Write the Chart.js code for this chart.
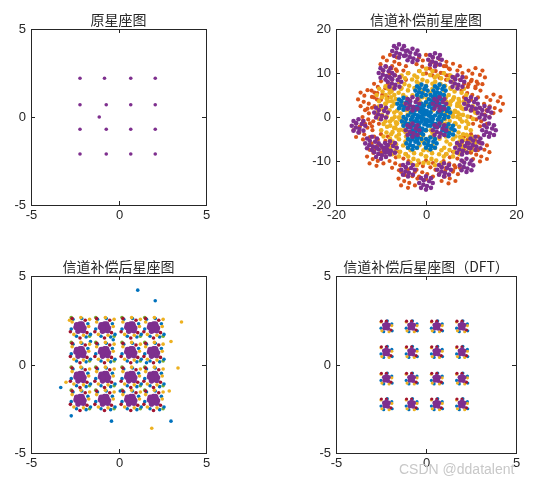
<!DOCTYPE html>
<html><head><meta charset="utf-8">
<script src="https://cdn.jsdelivr.net/npm/chart.js@4/dist/chart.umd.min.js"></script>
<style>
html,body{margin:0;padding:0;background:#fff;width:547px;height:488px;overflow:hidden}
canvas{position:absolute;left:0;top:0;pointer-events:none}
#wm{position:absolute;left:399px;top:461px;font:14px "Liberation Sans",Arial,sans-serif;color:#c8c8c8}
</style></head><body>
<canvas id="c1" width="547" height="488"></canvas>
<canvas id="c2" width="547" height="488"></canvas>
<canvas id="c3" width="547" height="488"></canvas>
<canvas id="c4" width="547" height="488"></canvas>
<div id="wm">CSDN @ddatalent</div>
<script>
// ---- data ----
const titles = ['原星座图','信道补偿前星座图','信道补偿后星座图','信道补偿后星座图（DFT）'];
const ticks5 = [-5,0,5];
const ticks20 = [-20,0,20];
const ticks20y = [-20,-10,0,10,20];
// original constellation
const origPts = [[-2.2,2.2],[-0.8,2.2],[0.7,2.2],[2.1,2.2],[-2.2,0.7],[-0.7,0.7],[0.7,0.7],[2.1,0.7],[-1.1,0],
  [-2.2,-0.7],[-0.7,-0.7],[0.7,-0.7],[2.1,-0.7],[-2.2,-2.1],[-0.7,-2.1],[0.7,-2.1],[2.1,-2.1]];
// before compensation: loop centres per colour and a loop shape
const loopShape = [[1.5,0],[1.1,1.1],[0,1.5],[-1.1,1.1],[-1.5,0],[-1.1,-1.1],[0,-1.5],[1.1,-1.1],[0.7,0.4],[-0.5,0.6],[0.2,-0.7],[-0.6,-0.4]];
const preYellow = [[-7,5],[-4,8],[0,9],[4,8],[7,5],[9,1],[8,-3],[6,-7],[2,-9],[-2,-9],[-6,-7],[-8,-3],[-9,1],[-3,3],[3,3],[3,-3],[-3,-3],[0,5],[0,-5],[5,0],[-5,0],[-6,-2],[6,2],[9,-6],[-9,5]];
const preOrange = [[-10,6],[-6,10],[0,12],[6,10],[10,6],[12,0],[10,-6],[6,-10],[0,-12],[-6,-10],[-10,-6],[-12,0],[-14,-3],[15,3],[-4,-14],[5,-13],[-8,12],[3,11],[-11,-9],[12,-8],[-13,4],[11,9]];
const preBlue = [[0,0],[-2,1],[2,-1],[-4,-1],[4,1],[-2,-4],[2,4],[-1,6],[1,-6],[-5,3],[5,-3],[-3,-6],[3,6],[0,2],[-1,-2]];
const prePurple = [[-15,-2],[13,1],[0,-15],[-3,14],[-7,8],[7,8],[-8,-7],[8,-7],[-3,3],[3,3],[-3,-3],[3,-3],[-10,1],[10,3],[4,-12],[-4,-12],[-10,-8],[11,-6],[-9,10],[2,13],[-12,-6],[9,-11],[-6,15],[14,-3]];
// after compensation: cluster centres
const qamX = [-2.2,-0.8,0.7,2.0];
const qamY = [2.1,0.7,-0.7,-2.0];
const purpleSpread = [[0,0],[0.2,0.1],[-0.2,0.1],[0.1,-0.2],[-0.1,-0.2],[0.3,-0.05],[-0.3,0],[0,0.25],[0.15,0.25],[-0.15,-0.3],[0.25,-0.25],[-0.25,0.2],[0.1,0.05],[-0.1,-0.05]];
const blueSpread = [[0.45,0.2],[-0.5,-0.1],[0.1,0.5],[-0.2,-0.5],[0.6,-0.4],[-0.4,0.45],[0.35,-0.55]];
const yellowSpread = [[-0.45,0.3],[0.5,0.05],[0.2,-0.45],[-0.35,-0.4],[0.05,0.55],[0.55,0.45]];
const redSpread = [[0.4,-0.3],[-0.45,0.5],[-0.55,-0.25],[0.3,0.4],[0.0,-0.6]];
const greenSpread = [[-0.5,0.55],[0.55,-0.5]];
const afterOutliers = [[-2.8,2.5],[3.6,2.4],[3.0,1.3],[3.4,-0.2],[-3.0,-1.0],[2.9,-1.5],[1.9,-3.6],[3.0,-3.2],[-2.7,-2.9],[1.1,4.2],[-0.4,-3.2],[2.1,3.6],[-3.3,-1.3]];
const afterOutliers2 = [[-1.6,1.3],[0.1,-1.5],[-0.3,1.4],[1.6,0.1]];
const brPurpleSpread = [[0,0],[0.12,0.08],[-0.12,0.08],[0.08,-0.12],[-0.1,-0.1],[0,0.15]];
const brBlueSpread = [[0.3,0.15],[-0.3,-0.1],[0.05,0.32],[-0.15,-0.3],[0.32,-0.25]];
const brYellowSpread = [[-0.3,0.25],[0.3,0.05],[0.15,-0.3],[-0.25,-0.25]];
const brRedSpread = [[0.25,-0.2],[-0.28,0.3],[0.0,0.3]];
const brCentX = [-2.2,-0.8,0.6,2.0];
const brCentY = [2.15,0.7,-0.8,-2.25];

const C = {blue:'#0072BD',orange:'#D95319',yellow:'#EDB120',purple:'#7E2F8E',green:'#77AC30',red:'#A2142F',cyan:'#4DBEEE'};

function around(centres, shape, scale){const o=[];for(const c of centres)for(const s of shape)o.push({x:c[0]+s[0]*(scale||1),y:c[1]+s[1]*(scale||1)});return o;}
function grid(xs,ys){const o=[];for(const y of ys)for(const x of xs)o.push([x,y]);return o;}
function pts(a){return a.map(p=>({x:p[0],y:p[1]}));}

const boxPlugin={id:'box',afterDraw(ch,args,opt){
  const {ctx,chartArea:a}=ch;const sx=ch.scales.x,sy=ch.scales.y;
  ctx.save();ctx.strokeStyle='#262626';ctx.lineWidth=1;
  ctx.strokeRect(Math.round(a.left)+0.5,Math.round(a.top)+0.5,Math.round(a.right-a.left),Math.round(a.bottom-a.top));
  ctx.fillStyle='#262626';ctx.font='13px "Liberation Sans", Arial, sans-serif';
  ctx.textAlign='center';ctx.textBaseline='top';
  for(const v of opt.xt){const px=Math.round(sx.getPixelForValue(v))+0.5;
    ctx.beginPath();ctx.moveTo(px,a.bottom);ctx.lineTo(px,a.bottom-4);ctx.moveTo(px,a.top);ctx.lineTo(px,a.top+4);ctx.stroke();
    ctx.fillText(String(v),px,a.bottom+4);}
  ctx.textAlign='right';ctx.textBaseline='middle';
  for(const v of opt.yt){const py=Math.round(sy.getPixelForValue(v))+0.5;
    ctx.beginPath();ctx.moveTo(a.left,py);ctx.lineTo(a.left+4,py);ctx.moveTo(a.right,py);ctx.lineTo(a.right-4,py);ctx.stroke();
    ctx.fillText(String(v),a.left-5,py);}
  ctx.textAlign='center';ctx.textBaseline='bottom';ctx.font='14px "Noto Sans CJK SC", sans-serif';
  ctx.fillText(opt.title,(a.left+a.right)/2,a.top-2);
  ctx.restore();}};

function make(id,pad,rng,xt,yt,title,datasets){
  new Chart(document.getElementById(id),{type:'scatter',
    data:{datasets:datasets.map((d,i)=>({data:d.data,backgroundColor:d.c,borderWidth:0,pointRadius:d.r,order:i}))},
    options:{responsive:false,animation:false,events:[],
      layout:{padding:pad},
      plugins:{legend:{display:false},tooltip:{enabled:false},box:{xt,yt,title}},
      scales:{x:{type:'linear',min:rng[0],max:rng[1],display:false},y:{type:'linear',min:rng[0],max:rng[1],display:false}}},
    plugins:[boxPlugin]});
}
make('c1',{left:31,top:29,right:341,bottom:283},[-5,5],ticks5,ticks5,titles[0],[{data:pts(origPts),c:C.purple,r:1.8}]);
make('c2',{left:336,top:29,right:31,bottom:283},[-20,20],ticks20,ticks20y,titles[1],[
  {data:around(prePurple,loopShape,1),c:C.purple,r:2.3},
  {data:around(preBlue,loopShape,0.9),c:C.blue,r:2.3},
  {data:around(preYellow,loopShape,1.3),c:C.yellow,r:2.3},
  {data:around(preOrange,loopShape,1.4),c:C.orange,r:2.1}]);
const bl=grid(qamX,qamY);
make('c3',{left:31,top:276,right:341,bottom:35},[-5,5],ticks5,ticks5,titles[2],[
  {data:around(bl,purpleSpread,0.75),c:C.purple,r:2.8},
  {data:around(bl,redSpread,1),c:C.red,r:1.8},
  {data:around(bl,yellowSpread,1).concat(pts(afterOutliers.slice(0,7))),c:C.yellow,r:1.8},
  {data:around(bl,blueSpread,1).concat(pts(afterOutliers.slice(7)),pts(afterOutliers2)),c:C.blue,r:1.8},
  {data:around(bl,greenSpread,1),c:C.green,r:1.8}]);
const br=grid(brCentX,brCentY);
make('c4',{left:336,top:276,right:31,bottom:35},[-5,5],ticks5,ticks5,titles[3],[
  {data:around(br,brPurpleSpread,1),c:C.purple,r:2.3},
  {data:around(br,brRedSpread,1),c:C.red,r:1.6},
  {data:around(br,brYellowSpread,1),c:C.yellow,r:1.6},
  {data:around(br,brBlueSpread,1),c:C.blue,r:1.6}]);
</script></body></html>
